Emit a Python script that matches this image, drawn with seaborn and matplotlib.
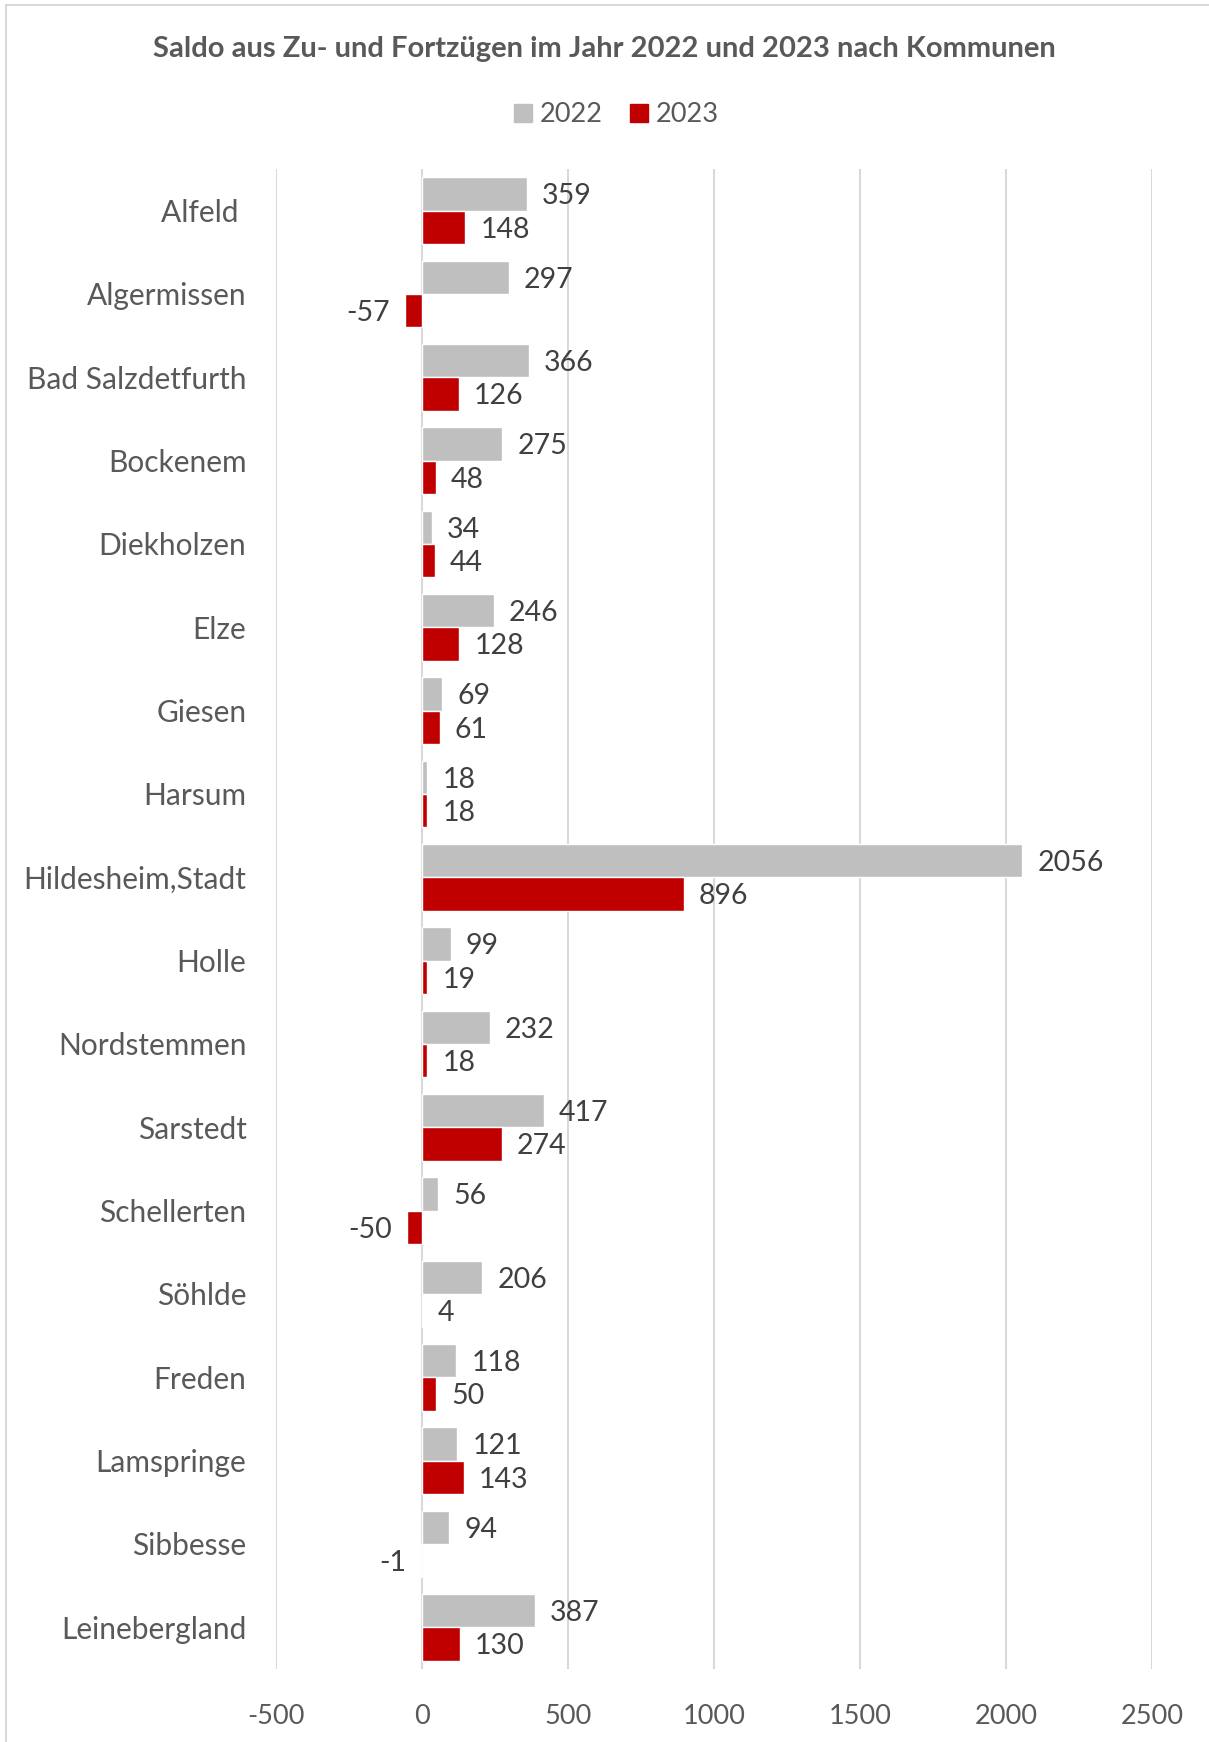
import pandas as pd
import seaborn as sns
import matplotlib.pyplot as plt
from matplotlib.patches import Rectangle

# data
kommunen = ['Alfeld ', 'Algermissen', 'Bad Salzdetfurth', 'Bockenem', 'Diekholzen',
            'Elze', 'Giesen', 'Harsum', 'Hildesheim,Stadt', 'Holle', 'Nordstemmen',
            'Sarstedt', 'Schellerten', 'Söhlde', 'Freden', 'Lamspringe', 'Sibbesse',
            'Leinebergland']
saldo_2022 = [359, 297, 366, 275, 34, 246, 69, 18, 2056, 99, 232, 417, 56, 206, 118, 121, 94, 387]
saldo_2023 = [148, -57, 126, 48, 44, 128, 61, 18, 896, 19, 18, 274, -50, 4, 50, 143, -1, 130]
jahre = ['2022', '2023']

df = pd.DataFrame({
    'Kommune': kommunen * 2,
    'Jahr': [jahre[0]] * len(kommunen) + [jahre[1]] * len(kommunen),
    'Saldo': saldo_2022 + saldo_2023,
})

sns.set_style('white')
plt.rcParams['font.family'] = ['Lato', 'DejaVu Sans']
plt.rcParams['axes.unicode_minus'] = False

fig = plt.figure(figsize=(12.09, 17.42), dpi=100)
ax = fig.add_axes([0.228, 0.042, 0.725, 0.861])

sns.barplot(data=df, y='Kommune', x='Saldo', hue='Jahr', hue_order=jahre,
            palette=['#BFBFBF', '#C00000'], orient='h', width=0.8, ax=ax,
            legend=False, saturation=1, errorbar=None)

for cont in ax.containers:
    labels = ax.bar_label(cont, fmt='%d', padding=11, fontsize=20.5, color='#404040')
    for t in labels:
        t.set_va('center_baseline')

ax.set_xlim(-500, 2500)
ax.set_xticks([-500, 0, 500, 1000, 1500, 2000, 2500])
ax.set_ylim(17.5, -0.5)
ax.grid(axis='x', color='#D9D9D9', linewidth=1.5)
ax.set_axisbelow(True)
for s in ax.spines.values():
    s.set_visible(False)
ax.tick_params(axis='both', length=0, labelcolor='#595959')
ax.tick_params(axis='y', pad=21, labelsize=21.5)
ax.tick_params(axis='x', pad=25, labelsize=19.5)
ax.set_xlabel('')
ax.set_ylabel('')

fig.text(0.5, 0.972, 'Saldo aus Zu- und Fortzügen im Jahr 2022 und 2023 nach Kommunen',
         ha='center', va='center', fontsize=21, fontweight='bold', color='#595959')

handles = [Rectangle((0, 0), 1, 1, color='#BFBFBF'), Rectangle((0, 0), 1, 1, color='#C00000')]
fig.legend(handles, jahre, loc='center', bbox_to_anchor=(0.51, 0.934), ncol=2, frameon=False,
           fontsize=19.5, labelcolor='#595959', handlelength=0.65, handleheight=0.65,
           handletextpad=0.3, columnspacing=1.0)

# chart border
fig.add_artist(Rectangle((6 / 1209, -0.1), 1.2, 1.1 - 5 / 1742, transform=fig.transFigure,
                         fill=False, edgecolor='#D9D9D9', linewidth=1.5))

fig.savefig('out.png', dpi=100)
